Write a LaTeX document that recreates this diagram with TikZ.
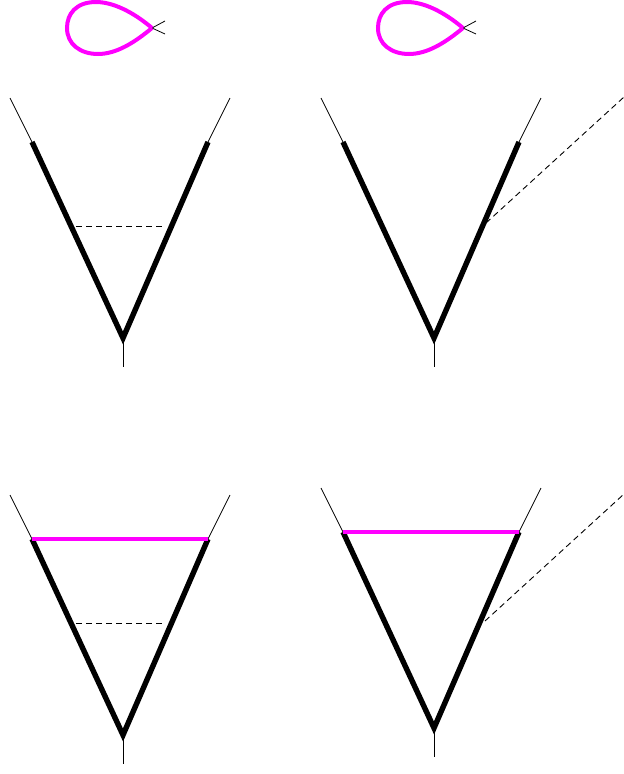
\documentclass[tikz,border=0pt]{standalone}
\usepackage{xcolor}
\definecolor{mag}{RGB}{255,0,255}
\begin{document}
\begin{tikzpicture}[x=1pt,y=-1pt,
  thinline/.style={line width=0.8pt,black},
  thickline/.style={line width=5.4pt,black,line join=miter},
  magline/.style={line width=4pt,mag},
  dashline/.style={line width=0.9pt,black,dash pattern=on 6pt off 4pt}]
\useasboundingbox (0,0) rectangle (624,774);
% loops
\foreach \dx/\n in {0/a,311/b}{
  \begin{scope}[xshift=\dx pt]
    \coordinate (tip\n) at (152,28);
    \coordinate (lu\n) at (165,21);
    \coordinate (ld\n) at (165,34);
    \draw[thinline] (tip\n) -- (lu\n);
    \draw[thinline] (tip\n) -- (ld\n);
    \draw[magline] (tip\n) .. controls (132,11) and (112,2) .. (96,2)
      .. controls (76,2) and (67,14) .. (67,28)
      .. controls (67,44) and (80,54) .. (98,54)
      .. controls (116,54) and (134,43) .. (tip\n);
  \end{scope}}
% V shapes
\foreach \dx/\dy/\n in {0/0/A,311/0/B,0/397/C,311/390/D}{
  \begin{scope}[xshift=\dx pt,yshift=-\dy pt]
    \coordinate (tl\n) at (10,98);
    \coordinate (tr\n) at (230,98);
    \coordinate (al\n) at (32,142);
    \coordinate (ar\n) at (208,142);
    \coordinate (v\n) at (123,338);
    \coordinate (b\n) at (123,367);
    \draw[thinline] (tl\n) -- (al\n);
    \draw[thinline] (tr\n) -- (ar\n);
    \draw[thinline] (v\n) -- (b\n);
    \draw[thickline] (al\n) -- (v\n) -- (ar\n);
  \end{scope}}
% dashed chords
\coordinate (dA1) at (76,226); \coordinate (dA2) at (165,226);
\draw[dashline] (dA1) -- (dA2);
\coordinate (dC1) at (76,623); \coordinate (dC2) at (165,623);
\draw[dashline] (dC1) -- (dC2);
% dashed rays
\coordinate (dB1) at (486,223); \coordinate (dB2) at (624,97);
\draw[dashline] (dB1) -- (dB2);
\coordinate (dD1) at (485,621); \coordinate (dD2) at (624,494);
\draw[dashline] (dD1) -- (dD2);
% magenta tops
\draw[magline] (alC) -- (arC);
\draw[magline] (alD) -- (arD);
\end{tikzpicture}
\end{document}
